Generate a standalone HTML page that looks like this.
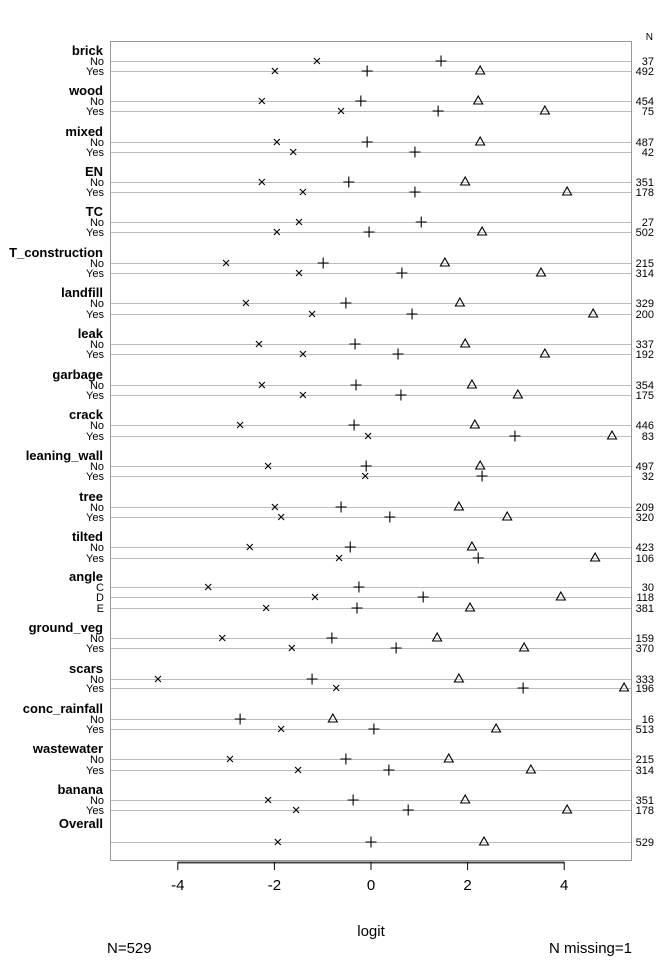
<!DOCTYPE html>
<html><head><meta charset="utf-8"><style>
body{margin:0;background:#fff;}
svg{display:block;font-family:"Liberation Sans",Arial,sans-serif;}
</style></head><body>
<svg id="chart" width="672" height="960" viewBox="0 0 672 960" xmlns="http://www.w3.org/2000/svg">
<rect x="110.5" y="41.5" width="521" height="819" fill="none" stroke="#999" stroke-width="1"/>
<text x="653" y="40" font-size="10" text-anchor="end">N</text>
<g id="rows"></g>
<g id="axis"></g>
<text x="371" y="936" font-size="15" text-anchor="middle">logit</text>
<text x="107" y="953" font-size="15">N=529</text>
<text x="632" y="953" font-size="15" text-anchor="end">N missing=1</text>
</svg>
<script>
const groups = ["brick","wood","mixed","EN","TC","T_construction","landfill","leak","garbage","crack","leaning_wall","tree","tilted","angle","ground_veg","scars","conc_rainfall","wastewater","banana","Overall"];
const levels = [["No","Yes"],["No","Yes"],["No","Yes"],["No","Yes"],["No","Yes"],["No","Yes"],["No","Yes"],["No","Yes"],["No","Yes"],["No","Yes"],["No","Yes"],["No","Yes"],["No","Yes"],["C","D","E"],["No","Yes"],["No","Yes"],["No","Yes"],["No","Yes"],["No","Yes"],[""]];
const rowY = [[61,71],[101,111],[142,152],[182,192],[222,232],[263,273],[303,314],[344,354],[385,395],[425,436],[466,476],[507,517],[547,558],[587,597,608],[638,648],[679,688],[719,729],[759,770],[800,810],[842]];
const counts = [[37,492],[454,75],[487,42],[351,178],[27,502],[215,314],[329,200],[337,192],[354,175],[446,83],[497,32],[209,320],[423,106],[30,118,381],[159,370],[333,196],[16,513],[215,314],[351,178],[529]];
const crossVals = [[-1.12,-1.99],[-2.26,-0.62],[-1.95,-1.61],[-2.26,-1.41],[-1.49,-1.95],[-3.0,-1.49],[-2.59,-1.22],[-2.32,-1.41],[-2.26,-1.41],[-2.71,-0.06],[-2.13,-0.12],[-1.99,-1.86],[-2.51,-0.66],[-3.37,-1.16,-2.17],[-3.08,-1.64],[-4.41,-0.72],[null,-1.86],[-2.92,-1.51],[-2.13,-1.55],[-1.93]];
const plusVals = [[1.45,-0.08],[-0.21,1.39],[-0.08,0.91],[-0.46,0.91],[1.04,-0.04],[-0.99,0.64],[-0.52,0.85],[-0.33,0.56],[-0.31,0.62],[-0.35,2.98],[-0.10,2.30],[-0.62,0.39],[-0.43,2.22],[-0.25,1.08,-0.29],[-0.81,0.52],[-1.22,3.15],[-2.71,0.06],[-0.52,0.37],[-0.37,0.77],[0]];
const triVals = [[null,2.26],[2.22,3.6],[2.26,null],[1.95,4.06],[null,2.3],[1.53,3.52],[1.84,4.6],[1.95,3.6],[2.09,3.04],[2.15,4.99],[2.26,null],[1.82,2.82],[2.09,4.64],[null,3.93,2.05],[1.37,3.17],[1.82,5.24],[-0.79,2.59],[1.61,3.31],[1.95,4.06],[2.34]];
const ticks = [-4,-2,0,2,4];

const NS="http://www.w3.org/2000/svg";
const x0=371, ppu=48.3;
function xs(v){return x0+v*ppu;}
function mk(tag,attrs,parent){const e=document.createElementNS(NS,tag);for(const k in attrs)e.setAttribute(k,attrs[k]);parent.appendChild(e);return e;}
const rows=document.getElementById('rows');
groups.forEach((g,gi)=>{
  const ys=rowY[gi];
  const hy = gi===groups.length-1 ? ys[0]-14 : ys[0]-6;
  const h=mk('text',{x:103,y:hy,'font-size':13,'font-weight':'bold','text-anchor':'end'},rows);
  h.textContent=g;
  
  
  levels[gi].forEach((lv,li)=>{
    const y=ys[li];
    const ln=mk('line',{x1:111,x2:631,y1:y+0.5,y2:y+0.5,stroke:'#bbb','stroke-width':1},rows);
    
    
    if(lv){
      const t=mk('text',{x:104,y:y+4,'font-size':11,'text-anchor':'end'},rows);
      t.textContent=lv;
      
      
    }
    const n=mk('text',{x:654,y:y+4,'font-size':11,'text-anchor':'end'},rows);
    n.textContent=counts[gi][li];
    
    
    const cv=crossVals[gi][li];
    if(cv!==null){const cx=xs(cv);
      const p=mk('path',{d:`M${cx-3},${y-3}L${cx+3},${y+3}M${cx-3},${y+3}L${cx+3},${y-3}`,stroke:'#000','stroke-width':1.1,fill:'none'},rows);
      
      }
    const pv=plusVals[gi][li];
    if(pv!==null){const cx=xs(pv);
      const p=mk('path',{d:`M${cx-5.5},${y}L${cx+5.5},${y}M${cx},${y-5.5}L${cx},${y+5.5}`,stroke:'#000','stroke-width':1.1,fill:'none'},rows);
      
      }
    const tv=triVals[gi][li];
    if(tv!==null){const cx=xs(tv);
      const p=mk('path',{d:`M${cx},${y-5}L${cx+4.5},${y+3}L${cx-4.5},${y+3}Z`,stroke:'#000','stroke-width':1.1,fill:'none'},rows);
      
      }
  });
});
const ax=document.getElementById('axis');
const al=mk('line',{x1:xs(ticks[0]),x2:xs(ticks[ticks.length-1]),y1:862.5,y2:862.5,stroke:'#444','stroke-width':2},ax);


ticks.forEach(t=>{
  const tl=mk('line',{x1:xs(t),x2:xs(t),y1:862,y2:870,stroke:'#000','stroke-width':1},ax);
  
  
  const tx=mk('text',{x:xs(t),y:890,'font-size':15,'text-anchor':'middle'},ax);
  tx.textContent=t;
  
  
});
</script>
</body></html>
